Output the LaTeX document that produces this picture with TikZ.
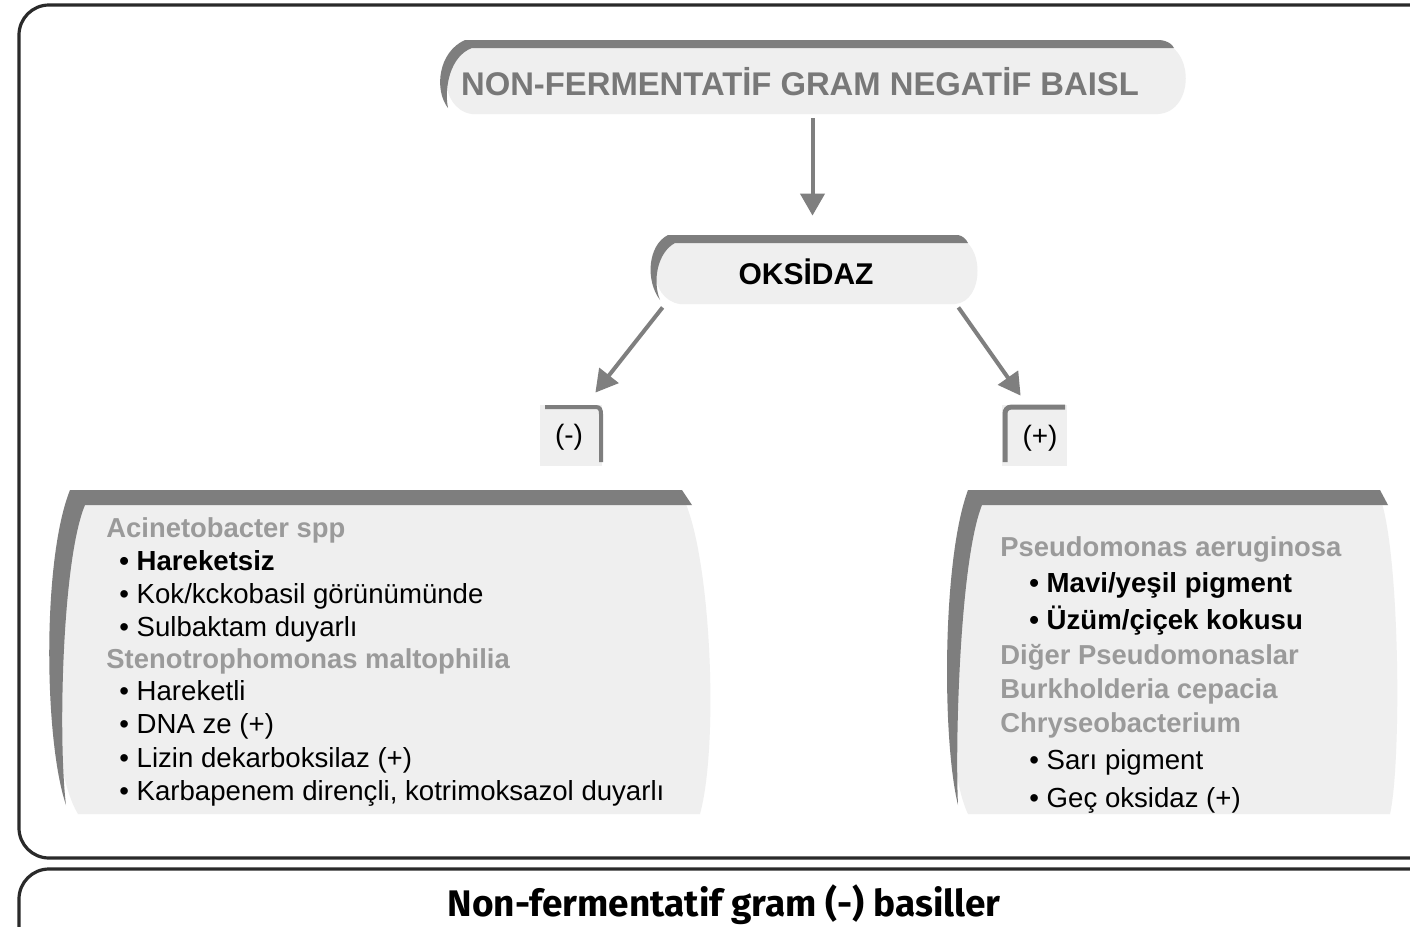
\documentclass[tikz,border=0pt]{standalone}
\usepackage{fontspec}
\setmainfont{Liberation Sans}
\newfontfamily\bottomfont{Fira Sans}
\usetikzlibrary{arrows.meta,calc}
\definecolor{bandgray}{HTML}{7E7E7E}
\definecolor{fillgray}{HTML}{EFEFEF}
\definecolor{spgray}{HTML}{9A9A9A}
\definecolor{titlegray}{HTML}{787878}
\definecolor{arrowgray}{HTML}{7F7F7F}
\definecolor{framegray}{HTML}{2A2A2A}
\begin{document}
\begin{tikzpicture}[x=0.5pt,y=-0.5pt,
 frame/.style={draw=framegray,line width=1.6pt},
 band/.style={fill=bandgray,draw=none},
 boxfill/.style={fill=fillgray,draw=none},
 arr/.style={draw=arrowgray,line width=2pt,-{Triangle[length=11pt,width=12pt]}},
 hole/.style={draw=none,inner sep=0pt},
 sp/.style={anchor=base west,inner sep=0pt,font=\bfseries\fontsize{13.7}{16}\selectfont,text=spgray},
 itm/.style={anchor=base west,inner sep=0pt,font=\fontsize{13.8}{16}\selectfont},
 itmb/.style={anchor=base west,inner sep=0pt,font=\bfseries\fontsize{13.8}{16}\selectfont}]
\useasboundingbox (0,0) rectangle (1410,927);
\clip (0,0) rectangle (1410,927);
\fill[white] (0,0) rectangle (1410,927);

% frames
\draw[frame,rounded corners=15pt] (1430,5) -- (19,5) -- (19,858) -- (1430,858);
\draw[frame,rounded corners=15pt] (1430,869) -- (19,869) -- (19,960);

% box anchors
\node[hole,minimum width=375pt,minimum height=37.5pt] (title) at (812.5,77.5) {};
\node[hole,minimum width=162.5pt,minimum height=35pt] (oks) at (812.5,270) {};
\node[hole,minimum width=31pt,minimum height=30pt] (neg) at (571,435) {};
\node[hole,minimum width=32.5pt,minimum height=30pt] (pos) at (1034.5,435) {};

% title box
\path[boxfill] (470,42) -- (1158,42) .. controls (1195,45) and (1195,112) .. (1158,114) -- (472,114) .. controls (438,110) and (436,46) .. (470,42) -- cycle;
\path[band] (465,40) -- (1160,40) .. controls (1168,41) and (1172,44) .. (1174,48) -- (472,48) .. controls (450,56) and (444,88) .. (448,108) .. controls (434,90) and (438,52) .. (465,40) -- cycle;

% oksidaz box
\path[boxfill] (675,237) -- (955,237) .. controls (985,240) and (985,302) .. (955,304) -- (680,304) .. controls (648,300) and (645,242) .. (675,237) -- cycle;
\path[band] (668,235) -- (958,235) .. controls (963,236) and (966,239) .. (968,243) -- (675,243) .. controls (658,252) and (652,280) .. (660,300) .. controls (645,280) and (648,245) .. (668,235) -- cycle;

% (-) and (+) boxes
\path[boxfill] (540,405) rectangle (602,466);
\draw[bandgray,line width=2pt] (545,407) -- (596,407) .. controls (600,407) and (601,410) .. (601,414) -- (601,462);
\path[boxfill] (1002,405) rectangle (1067,466);
\draw[bandgray,line width=2.5pt] (1065,407) -- (1012,407) .. controls (1007,407) and (1005,410) .. (1005,414) -- (1005,462);

% left big box
\path[boxfill] (72,492) -- (680,492) .. controls (710,540) and (720,740) .. (700,814) -- (78,814) .. controls (45,760) and (42,560) .. (72,492) -- cycle;
\path[band] (70,490) -- (682,490) -- (692,505) -- (85,505) .. controls (62,560) and (58,740) .. (66,805) .. controls (44,740) and (42,560) .. (70,490) -- cycle;

% right big box
\path[boxfill] (972,492) -- (1378,492) .. controls (1400,540) and (1402,760) .. (1390,814) -- (968,814) .. controls (942,760) and (940,560) .. (972,492) -- cycle;
\path[band] (968,490) -- (1380,490) -- (1388,505) -- (982,505) .. controls (960,560) and (955,740) .. (958,805) .. controls (942,740) and (942,560) .. (968,490) -- cycle;

% texts
\node[font=\bfseries\fontsize{16.4}{19}\selectfont,text=titlegray] (ttext) at (800,82) {NON-FERMENTATİF GRAM NEGATİF BAISL};
\node[font=\bfseries\fontsize{15}{18}\selectfont] (otext) at (806,272) {OKSİDAZ};
\node[font=\fontsize{14}{16}\selectfont] (ntext) at (569,437) {(-)};
\node[font=\fontsize{14}{16}\selectfont] (ptext) at (1040,438) {(+)};

\node[sp] (l1) at (106,537) {Acinetobacter spp};
\node[itmb] (l2) at (119,570) {• Hareketsiz};
\node[itm] (l3) at (119,603) {• Kok/kckobasil görünümünde};
\node[itm] (l4) at (119,636) {• Sulbaktam duyarlı};
\node[sp] (l5) at (106,668) {Stenotrophomonas maltophilia};
\node[itm] (l6) at (119,700) {• Hareketli};
\node[itm] (l7) at (119,733) {• DNA ze (+)};
\node[itm] (l8) at (119,767) {• Lizin dekarboksilaz (+)};
\node[itm] (l9) at (119,800) {• Karbapenem dirençli, kotrimoksazol duyarlı};

\node[sp] (r1) at (1000,556) {Pseudomonas aeruginosa};
\node[itmb] (r2) at (1029,592) {• Mavi/yeşil pigment};
\node[itmb] (r3) at (1029,629) {• Üzüm/çiçek kokusu};
\node[sp] (r4) at (1000,664) {Diğer Pseudomonaslar};
\node[sp] (r5) at (1000,698) {Burkholderia cepacia};
\node[sp] (r6) at (1000,732) {Chryseobacterium};
\node[itm] (r7) at (1029,769) {• Sarı pigment};
\node[itm] (r8) at (1029,807) {• Geç oksidaz (+)};

\node[font=\bottomfont\bfseries\fontsize{18.5}{21}\selectfont] (cap) at (724,905) {Non-fermentatif gram (-) basiller};

% arrows
\draw[arr] ($(title.south)+(0,3)$) -- ($(oks.north)+(0,-19)$);
\draw[arr] ($(oks.south west)+(13,2)$) -- ($(neg.north east)+(-7,-12)$);
\draw[arr] ($(oks.south east)+(-17,2)$) -- ($(pos.north west)+(19,-9)$);
\end{tikzpicture}
\end{document}
